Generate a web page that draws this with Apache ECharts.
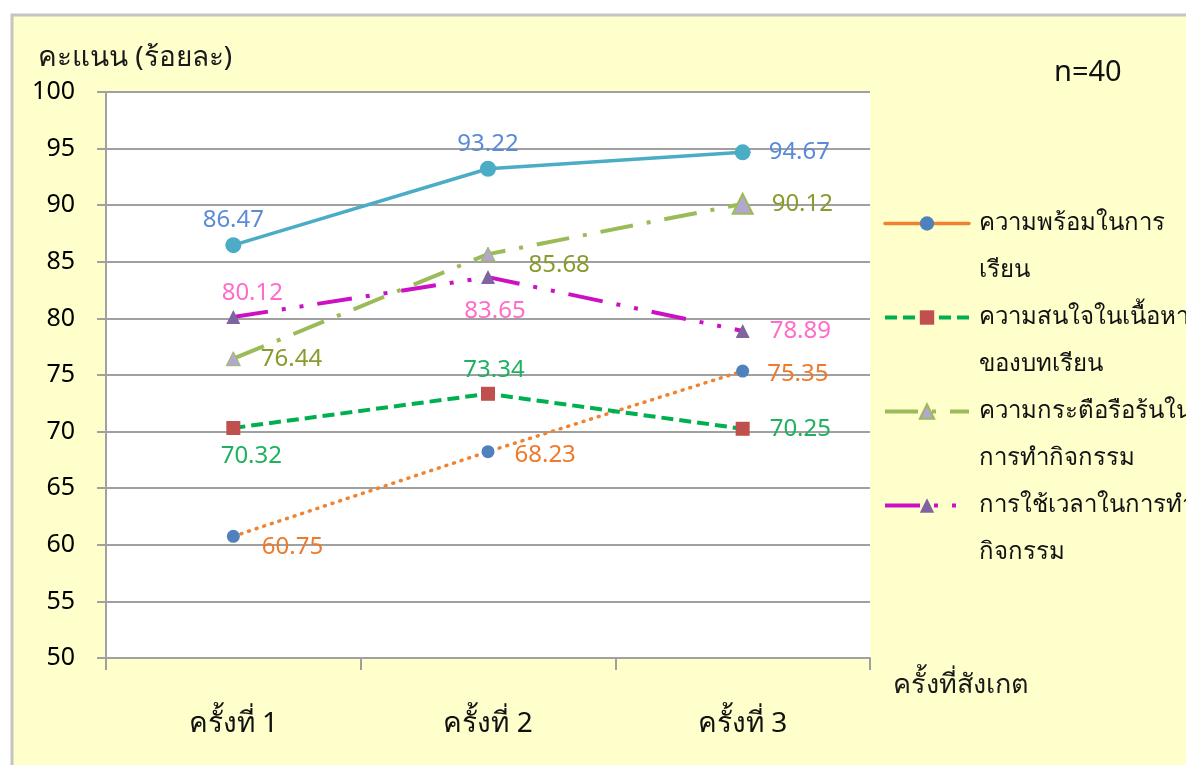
<!DOCTYPE html>
<html><head><meta charset="utf-8">
<script src="https://cdn.jsdelivr.net/npm/echarts@6/dist/echarts.min.js"></script>
<style>html,body{margin:0;padding:0;background:#fff}#c{width:1186px;height:765px}</style>
</head><body><div id="c"></div>
<script>
// ---- data ----
const categories = ['ครั้งที่ 1', 'ครั้งที่ 2', 'ครั้งที่ 3'];
const overallValues = [86.47, 93.22, 94.67];
const readinessValues = [60.75, 68.23, 75.35];
const interestValues = [70.32, 73.34, 70.25];
const enthusiasmValues = [76.44, 85.68, 90.12];
const timeUseValues = [80.12, 83.65, 78.89];
const seriesNames = ['ภาพรวม', 'ความพร้อมในการเรียน', 'ความสนใจในเนื้อหาของบทเรียน', 'ความกระตือรือร้นในการทำกิจกรรม', 'การใช้เวลาในการทำกิจกรรม'];
const legendLines = {
  'ความพร้อมในการเรียน': ['ความพร้อมในการ', 'เรียน'],
  'ความสนใจในเนื้อหาของบทเรียน': ['ความสนใจในเนื้อหา', 'ของบทเรียน'],
  'ความกระตือรือร้นในการทำกิจกรรม': ['ความกระตือรือร้นใน', 'การทำกิจกรรม'],
  'การใช้เวลาในการทำกิจกรรม': ['การใช้เวลาในการทำ', 'กิจกรรม']
};
const yMin = 50, yMax = 100, yStep = 5;
const yAxisTitle = 'คะแนน (ร้อยละ)';
const xAxisTitle = 'ครั้งที่สังเกต';
const sampleNote = 'n=40';

// ---- label placement (style) ----
const FONT = '"Noto Sans", "DejaVu Sans", sans-serif';
const overallLabels = [{position: 'top'}, {position: 'top'}, {position: 'right', distance: 18}];
const readinessLabels = [{position: 'right', distance: 22, offset: [0, 11]}, {position: 'right', distance: 20, offset: [0, 4]}, {position: 'right', distance: 18, offset: [0, 3]}];
const interestLabels = [{position: 'bottom', offset: [18, 4]}, {position: 'top', offset: [6, 0]}, {position: 'right', distance: 20}];
const enthusiasmLabels = [{position: 'right', distance: 20}, {position: 'right', distance: 33, offset: [0, 11]}, {position: 'right', distance: 18}];
const timeUseLabels = [{position: 'top', offset: [19, 0]}, {position: 'bottom', offset: [7, 10]}, {position: 'right', distance: 20}];

function withLabels(values, labels, color, extra) {
  return values.map((v, i) => Object.assign({
    value: v,
    label: Object.assign({show: true, color: color, fontSize: 24, fontFamily: FONT}, labels[i])
  }, extra ? extra[i] : {}));
}

const chart = echarts.init(document.getElementById('c'), null, {renderer: 'canvas'});
chart.setOption({
  backgroundColor: '#ffffff',
  animation: false,
  graphic: [{
    type: 'rect', z: -10, silent: true,
    shape: {x: 12, y: 15, width: 1200, height: 800},
    style: {fill: '#FFFFCC', stroke: '#C4C4C4', lineWidth: 3}
  }],
  title: [
    {text: yAxisTitle, left: 33, top: 39, textStyle: {fontSize: 28, fontWeight: 'normal', color: '#1a1a1a', fontFamily: FONT}},
    {text: sampleNote, left: 1049, top: 53, textStyle: {fontSize: 29, fontWeight: 'normal', color: '#111', fontFamily: FONT}}
  ],
  legend: {
    orient: 'vertical',
    left: 883, top: 153, padding: 0,
    itemWidth: 84, itemHeight: 18,
    itemGap: -47,
    data: [
      {name: seriesNames[1], lineStyle: {type: 'solid', width: 3.5}},
      {name: seriesNames[2], lineStyle: {width: 4}},
      {name: seriesNames[3], lineStyle: {width: 4}},
      {name: seriesNames[4], lineStyle: {width: 4}}
    ],
    formatter: n => '\n' + legendLines[n].join('\n'),
    textStyle: {fontSize: 24, lineHeight: 47, color: '#111', fontFamily: FONT, padding: [0, 0, 0, 5]}
  },
  grid: {left: 106, right: 316, top: 92, bottom: 107, show: true, backgroundColor: '#ffffff', borderWidth: 0},
  xAxis: {
    type: 'category', data: categories, boundaryGap: true,
    name: xAxisTitle, nameLocation: 'end', nameGap: 23,
    nameTextStyle: {fontSize: 27, color: '#1a1a1a', fontFamily: FONT, verticalAlign: 'top', padding: [14, 0, 0, 0]},
    axisLine: {show: true, lineStyle: {color: '#A0A0A0', width: 2}},
    axisTick: {show: true, length: 12, lineStyle: {color: '#A0A0A0', width: 2}},
    axisLabel: {fontSize: 28, color: '#111', fontFamily: FONT, margin: 52}
  },
  yAxis: {
    type: 'value', min: yMin, max: yMax, interval: yStep,
    axisLine: {show: true, lineStyle: {color: '#A0A0A0', width: 2}},
    axisTick: {show: true, length: 9, lineStyle: {color: '#A0A0A0', width: 2}},
    axisLabel: {fontSize: 25, color: '#000', fontFamily: FONT, margin: 31},
    splitLine: {show: true, lineStyle: {color: '#A0A0A0', width: 2}}
  },
  series: [
    {
      name: seriesNames[0], type: 'line',
      data: withLabels(overallValues, overallLabels, '#5B8BD8'),
      symbol: 'circle', symbolSize: 16,
      lineStyle: {color: '#4BACC6', width: 3.5},
      itemStyle: {color: '#4BACC6'}
    },
    {
      name: seriesNames[1], type: 'line',
      data: withLabels(readinessValues, readinessLabels, '#EE7A2C'),
      symbol: 'circle', symbolSize: 13,
      lineStyle: {color: '#F0832F', width: 3.5, type: [1, 7], cap: 'round'},
      itemStyle: {color: '#4F81BD'}
    },
    {
      name: seriesNames[2], type: 'line',
      data: withLabels(interestValues, interestLabels, '#1FB060'),
      symbol: 'rect', symbolSize: 14,
      lineStyle: {color: '#00B050', width: 4, type: [12, 6]},
      itemStyle: {color: '#C0504D'}
    },
    {
      name: seriesNames[3], type: 'line',
      data: withLabels(enthusiasmValues, enthusiasmLabels, '#8A9A2E', [{}, {}, {symbolSize: 20, itemStyle: {borderWidth: 2}}]),
      symbol: 'triangle', symbolSize: 14,
      lineStyle: {color: '#9BBB59', width: 4, type: [33, 14, 4, 14]},
      itemStyle: {color: '#B3A6CF', borderColor: '#9BBB59', borderWidth: 1}
    },
    {
      name: seriesNames[4], type: 'line',
      data: withLabels(timeUseValues, timeUseLabels, '#FF6CCB'),
      symbol: 'triangle', symbolSize: 14,
      lineStyle: {color: '#CC10C4', width: 4, type: [35, 14, 4, 14, 4, 14]},
      itemStyle: {color: '#8064A2'}
    }
  ]
});
</script>
</body></html>
